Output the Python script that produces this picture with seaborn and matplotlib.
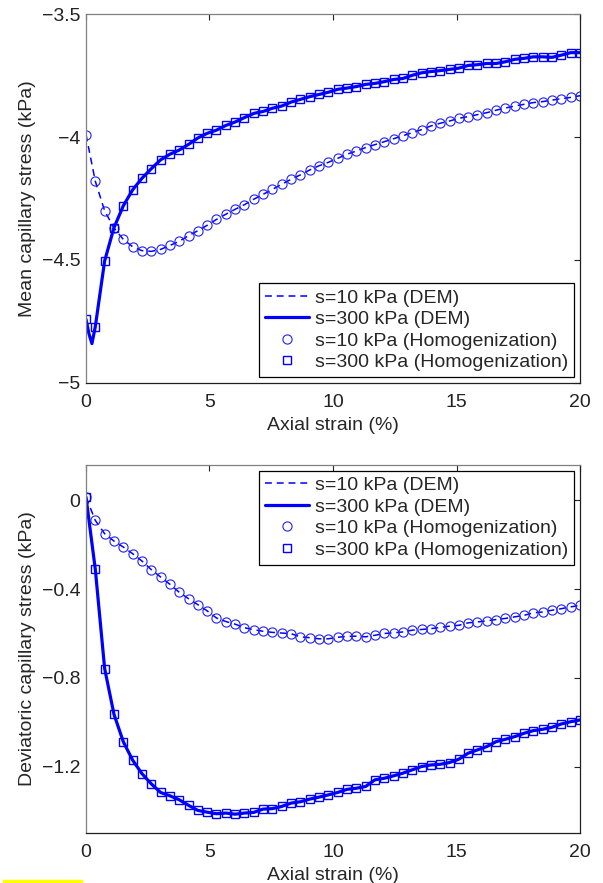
import numpy as np
import pandas as pd
import matplotlib
matplotlib.use("Agg")
import matplotlib.pyplot as plt
import matplotlib.ticker as mticker
from matplotlib.patches import Rectangle
import seaborn as sns

# ─────────────────────────────────────────
#  DATA
# ─────────────────────────────────────────
# strain steps at which the homogenization results are plotted (0-20 %)
strain = np.linspace(0, 20, 54)

mean_s10 = [
    -3.990, -4.180, -4.300, -4.370, -4.416, -4.446, -4.462, -4.465, -4.457, -4.441,
    -4.424, -4.401, -4.381, -4.359, -4.335, -4.314, -4.294, -4.275, -4.253, -4.233,
    -4.213, -4.192, -4.172, -4.154, -4.134, -4.117, -4.103, -4.087, -4.070, -4.057,
    -4.043, -4.031, -4.019, -4.007, -3.995, -3.982, -3.970, -3.955, -3.944, -3.935,
    -3.924, -3.917, -3.909, -3.901, -3.891, -3.882, -3.874, -3.867, -3.860, -3.856,
    -3.850, -3.844, -3.839, -3.832,
]
mean_s300 = [
    -4.741, -4.771, -4.504, -4.369, -4.280, -4.215, -4.168, -4.129, -4.093, -4.070,
    -4.053, -4.030, -4.004, -3.985, -3.972, -3.953, -3.939, -3.921, -3.904, -3.896,
    -3.883, -3.874, -3.858, -3.847, -3.836, -3.827, -3.818, -3.806, -3.801, -3.795,
    -3.786, -3.782, -3.775, -3.766, -3.762, -3.749, -3.739, -3.734, -3.730, -3.725,
    -3.720, -3.709, -3.706, -3.701, -3.701, -3.694, -3.684, -3.680, -3.674, -3.674,
    -3.676, -3.667, -3.657, -3.657,
]
dev_s10 = [
    0.015, -0.090, -0.150, -0.183, -0.210, -0.240, -0.273, -0.312, -0.345, -0.378,
    -0.414, -0.443, -0.470, -0.498, -0.530, -0.546, -0.558, -0.574, -0.583, -0.590,
    -0.595, -0.598, -0.601, -0.615, -0.619, -0.624, -0.624, -0.617, -0.613, -0.612,
    -0.615, -0.608, -0.600, -0.597, -0.593, -0.585, -0.582, -0.578, -0.573, -0.567,
    -0.563, -0.552, -0.548, -0.543, -0.537, -0.532, -0.525, -0.518, -0.507, -0.503,
    -0.495, -0.488, -0.480, -0.473,
]
dev_s300 = [
    0.015, -0.311, -0.758, -0.964, -1.088, -1.171, -1.232, -1.278, -1.317, -1.332,
    -1.350, -1.375, -1.398, -1.406, -1.413, -1.410, -1.415, -1.410, -1.407, -1.392,
    -1.390, -1.380, -1.365, -1.359, -1.347, -1.338, -1.328, -1.317, -1.303, -1.298,
    -1.290, -1.260, -1.253, -1.242, -1.230, -1.215, -1.200, -1.193, -1.190, -1.182,
    -1.167, -1.140, -1.125, -1.110, -1.088, -1.077, -1.065, -1.050, -1.038, -1.032,
    -1.023, -1.008, -0.998, -0.990,
]

# DEM s=300 mean stress has a short dip before the first output step
dem_start_strain = [0.0, 0.12, 0.24]
dem_start_mean_s300 = [-4.741, -4.800, -4.840]

LABELS = ["s=10 kPa (DEM)", "s=300 kPa (DEM)",
          "s=10 kPa (Homogenization)", "s=300 kPa (Homogenization)"]
BLUE = "#0000FF"

# ─────────────────────────────────────────
#  STYLE
# ─────────────────────────────────────────
sns.set_theme(style="white")
plt.rcParams.update({
    "font.family": ["Liberation Sans", "DejaVu Sans"],
    "font.size": 14,
    "axes.linewidth": 0.9,
    "xtick.direction": "in",
    "ytick.direction": "in",
    "xtick.major.size": 4,
    "ytick.major.size": 4,
    "xtick.major.width": 0.8,
    "ytick.major.width": 0.8,
    "xtick.labelsize": 14,
    "ytick.labelsize": 14,
    "xtick.color": "#222222",
    "ytick.color": "#222222",
    "axes.labelsize": 14,
})

minus_fmt = mticker.FuncFormatter(lambda v, _: f"{v:g}".replace("-", "\u2212"))


def draw_panel(ax, dem10_x, dem10_y, dem300_x, dem300_y, hom10, hom300):
    sns.lineplot(x=dem10_x, y=dem10_y, ax=ax, color=BLUE, lw=1.1,
                 linestyle=(0, (4.5, 3.2)), label=LABELS[0], sort=False)
    sns.lineplot(x=dem300_x, y=dem300_y, ax=ax, color=BLUE, lw=2.3,
                 label=LABELS[1], sort=False)
    sns.lineplot(x=strain, y=hom10, ax=ax, color=BLUE, linestyle="none",
                 marker="o", markersize=6.6, markerfacecolor="none",
                 markeredgecolor="#2020FF", markeredgewidth=0.8,
                 label=LABELS[2], sort=False)
    sns.lineplot(x=strain, y=hom300, ax=ax, color=BLUE, linestyle="none",
                 marker="s", markersize=5.2, markerfacecolor="none",
                 markeredgecolor=BLUE, markeredgewidth=1.0,
                 label=LABELS[3], sort=False)

    ax.set_xlim(0, 20)
    ax.set_xticks([0, 5, 10, 15, 20])
    ax.yaxis.set_major_formatter(minus_fmt)
    ax.tick_params(top=True, right=True)
    ax.tick_params(axis="x", pad=8)
    ax.tick_params(axis="y", pad=4)
    for side in ["left", "top"]:
        ax.spines[side].set_color("#808080")
    for side in ["right", "bottom"]:
        ax.spines[side].set_color("#202020")
    ax.set_xlabel("Axial strain (%)", labelpad=4)
    ax.grid(False)


fig = plt.figure(figsize=(6.03, 8.83), dpi=100)

# top panel: mean capillary stress
ax1 = fig.add_axes([0.1426, 0.5663, 0.8193, 0.4178])
dem300_x = dem_start_strain + list(strain[1:])
dem300_y = dem_start_mean_s300 + mean_s300[1:]
draw_panel(ax1, strain, mean_s10, dem300_x, dem300_y, mean_s10, mean_s300)
ax1.set_ylim(-5, -3.5)
ax1.set_yticks([-5, -4.5, -4, -3.5])
ax1.set_ylabel("Mean capillary stress (kPa)", labelpad=4)
ax1.legend(loc="lower right", frameon=True, fancybox=False, framealpha=1,
           edgecolor="black", handlelength=2.3, handletextpad=0.3,
           labelspacing=0.2, borderpad=0.3, borderaxespad=0.3,
           numpoints=1, fontsize=14)

# bottom panel: deviatoric capillary stress
ax2 = fig.add_axes([0.1426, 0.0566, 0.8193, 0.4168])
draw_panel(ax2, strain, dev_s10, strain, dev_s300, dev_s10, dev_s300)
ax2.set_ylim(-1.5, 0.16)
ax2.set_yticks([-1.2, -0.8, -0.4, 0])
ax2.set_ylabel("Deviatoric capillary stress (kPa)", labelpad=4)
ax2.legend(loc="upper right", frameon=True, fancybox=False, framealpha=1,
           edgecolor="black", handlelength=2.3, handletextpad=0.3,
           labelspacing=0.2, borderpad=0.3, borderaxespad=0.3,
           numpoints=1, fontsize=14)

for leg in [ax1.get_legend(), ax2.get_legend()]:
    leg.get_frame().set_linewidth(0.9)

# small yellow highlight strip at the bottom-left corner of the page
fig.patches.append(Rectangle((3 / 603, 0), 79 / 603, 3.5 / 883,
                             transform=fig.transFigure, color="#FFFF00",
                             zorder=0))

fig.savefig("out.png", dpi=100)
